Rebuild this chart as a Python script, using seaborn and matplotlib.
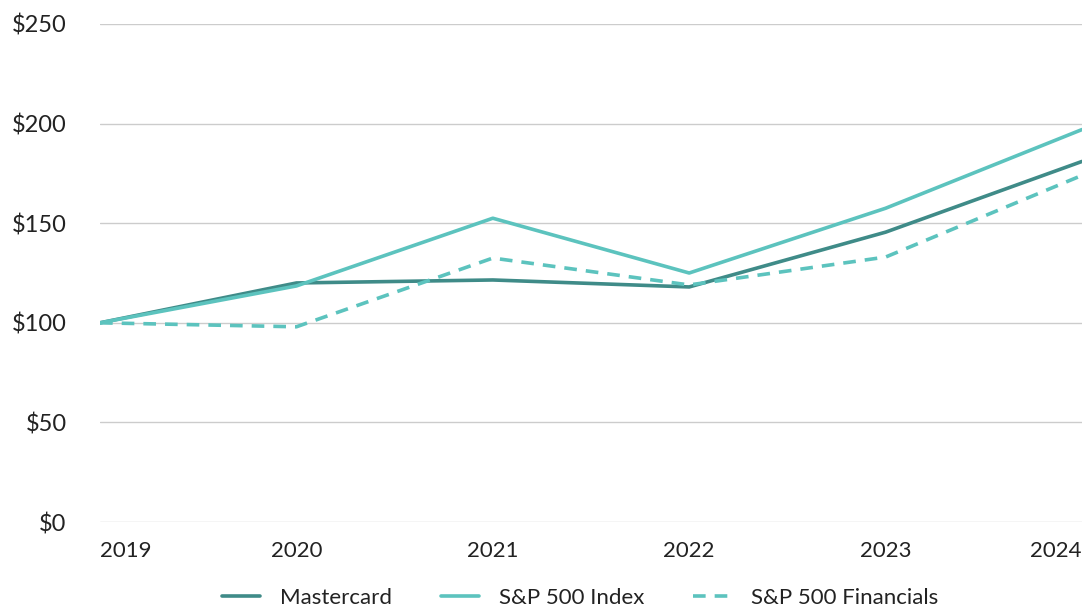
import matplotlib
matplotlib.use("Agg")
import matplotlib.pyplot as plt
import seaborn as sns
import pandas as pd

# data
years = [2019, 2020, 2021, 2022, 2023, 2024]
mastercard = [100, 120, 121.5, 118, 145.5, 181]
sp500 = [100, 118.5, 152.5, 125, 157.5, 197]
sp500_fin = [100, 98, 132.5, 119, 133, 174]
series_names = ["Mastercard", "S&P 500 Index", "S&P 500 Financials"]
y_ticks = [0, 50, 100, 150, 200, 250]

df = pd.DataFrame({
    "year": years * 3,
    "value": mastercard + sp500 + sp500_fin,
    "series": [series_names[0]] * 6 + [series_names[1]] * 6 + [series_names[2]] * 6,
})

sns.set_style("white")
plt.rcParams["font.family"] = ["Lato", "DejaVu Sans"]

fig = plt.figure(figsize=(10.85, 6.06), dpi=100)
ax = fig.add_axes([0.0922, 0.1386, 0.905, 0.8218])

palette = {"Mastercard": "#3f8b88", "S&P 500 Index": "#5cc3be", "S&P 500 Financials": "#5cc3be"}
dashes = {"Mastercard": "", "S&P 500 Index": "", "S&P 500 Financials": (3.5, 2.5)}
sns.lineplot(data=df, x="year", y="value", hue="series", style="series",
             palette=palette, dashes=dashes, linewidth=2.6, ax=ax, legend=True)

ax.set_xlim(years[0], years[-1])
ax.set_ylim(0, 250)
ax.set_yticks(y_ticks)
ax.set_yticklabels([f"${v}" for v in y_ticks], fontsize=17, color="#222222")
ax.set_xticks(years)
ax.set_xticklabels([str(y) for y in years], fontsize=16, color="#222222")
xl = ax.get_xticklabels()
xl[0].set_horizontalalignment("left")
xl[-1].set_horizontalalignment("right")
ax.tick_params(axis="x", length=0, pad=14)
ax.tick_params(axis="y", length=0, pad=24)
ax.set_xlabel("")
ax.set_ylabel("")
ax.grid(axis="y", color="#cccccc", linewidth=1.0)
ax.set_axisbelow(True)
for s in ax.spines.values():
    s.set_visible(False)

ax.legend(loc="upper center", bbox_to_anchor=(0.489, -0.123), ncol=3, frameon=False,
          fontsize=16, handlelength=1.7, columnspacing=2.2, handletextpad=0.9,
          labelcolor="#222222", borderaxespad=0, borderpad=0.2)

fig.savefig("out.png", dpi=100)
